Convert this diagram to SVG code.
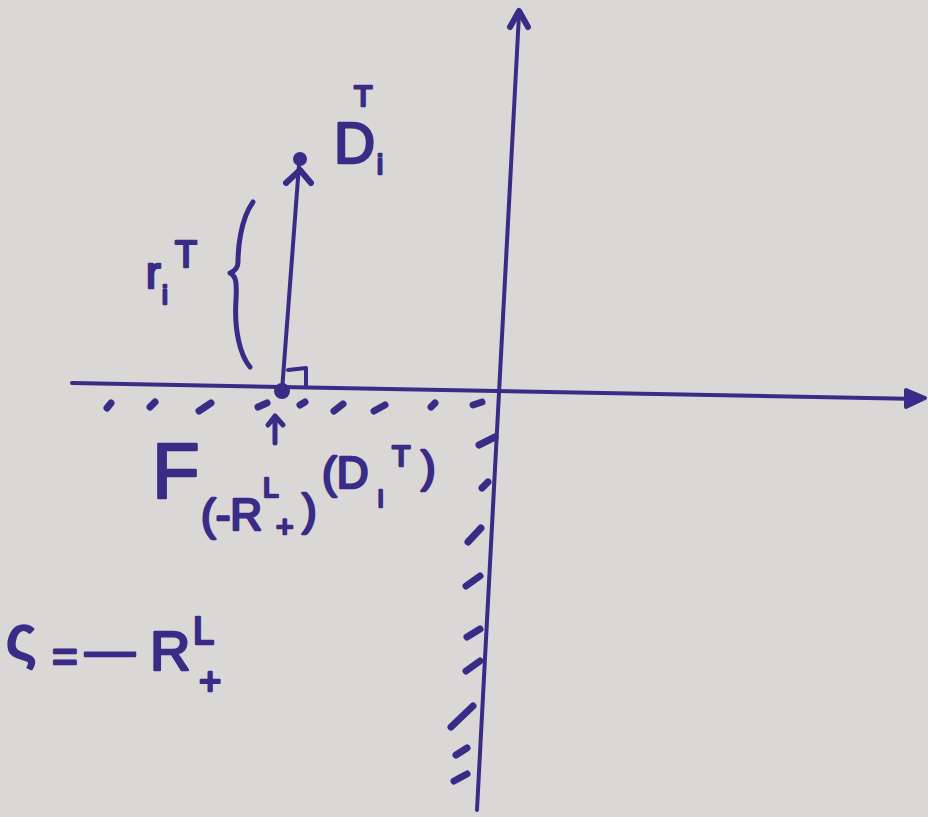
<svg xmlns="http://www.w3.org/2000/svg" width="928" height="817" viewBox="0 0 928 817">
<style>
.ink{stroke:#3a2c86;fill:none;stroke-linecap:round;stroke-linejoin:round}
.ax{stroke-width:4}
.hatch{stroke-width:7}
.t{fill:#3a2c86;stroke:#3a2c86;stroke-width:2.5;stroke-linejoin:round;font-family:"Liberation Sans","DejaVu Sans",sans-serif}
</style>
<rect width="928" height="817" fill="#d9d8d6"/>
<g id="axes" class="ink ax">
<path d="M72 383 L920 399"/>
<path d="M906 390 L925 398 L906 407 Z" fill="#3a2c86"/>
<path d="M477 810 L519 14"/>
<path d="M510 27 L519 11 L528 27" stroke-width="6"/>
</g>
<g id="hatching" class="ink hatch">
<path d="M107 408 L111 403"/>
<path d="M150 407 L155 402"/>
<path d="M199 411 L211 403"/>
<path d="M258 407 L267 403"/>
<path d="M300 405 L305 402"/>
<path d="M334 411 L343 404"/>
<path d="M374 411 L385 405"/>
<path d="M431 407 L435 403"/>
<path d="M473 405 L482 402"/>
<path d="M479 445 L495 437"/>
<path d="M482 488 L488 482"/>
<path d="M468 542 L481 528"/>
<path d="M466 586 L480 576"/>
<path d="M467 637 L480 629"/>
<path d="M466 671 L480 661"/>
<path d="M451 727 L473 706"/>
<path d="M456 755 L467 748"/>
<path d="M454 781 L467 774"/>
</g>
<g id="vector" class="ink">
<path d="M282 391 L299 165" stroke-width="4"/>
<path d="M286 183 L300 170 L311 183" stroke-width="6"/>
<circle cx="300" cy="159" r="7" fill="#3a2c86" stroke="none"/>
<circle cx="282" cy="391" r="8" fill="#3a2c86" stroke="none"/>
<path d="M288 370 L306 368 L306 386" stroke-width="4"/>
<path d="M253 202 C240 220 238 250 238 262 C238 268 235 271 230 273 C236 276 237 282 236 300 C234 330 240 355 250 367" stroke-width="5"/>
<path d="M275 443 L275 418 M268 425 L275 416 L283 425" stroke-width="5"/>
</g>
<g id="labels">
<text class="t" x="334" y="163" font-size="57">D</text>
<text class="t" x="354" y="106" font-size="30">T</text>
<text class="t" x="377" y="174" font-size="27">i</text>
<text class="t" x="146" y="288" font-size="44">r</text>
<text class="t" x="175" y="267" font-size="36">T</text>
<text class="t" x="162" y="304" font-size="26">i</text>
<text class="t" x="152" y="498" font-size="78">F</text>
<text class="t" x="201" y="530" font-size="44">(-R</text>
<text class="t" x="263" y="497" font-size="28">L</text>
<text class="t" x="276" y="537" font-size="30">+</text>
<text class="t" x="302" y="525" font-size="44">)</text>
<text class="t" x="322" y="488" font-size="44">(D</text>
<text class="t" x="392" y="466" font-size="30">T</text>
<text class="t" x="378" y="507" font-size="24">i</text>
<text class="t" x="421" y="482" font-size="44">)</text>
<text class="t" x="6" y="658" font-size="62">ς</text>
<text class="t" x="52" y="672" font-size="44">=</text>
<text class="t" x="85" y="667" font-size="50">—</text>
<text class="t" x="150" y="670" font-size="56">R</text>
<text class="t" x="193" y="644" font-size="38">L</text>
<text class="t" x="199" y="694" font-size="38">+</text>
</g>
</svg>
